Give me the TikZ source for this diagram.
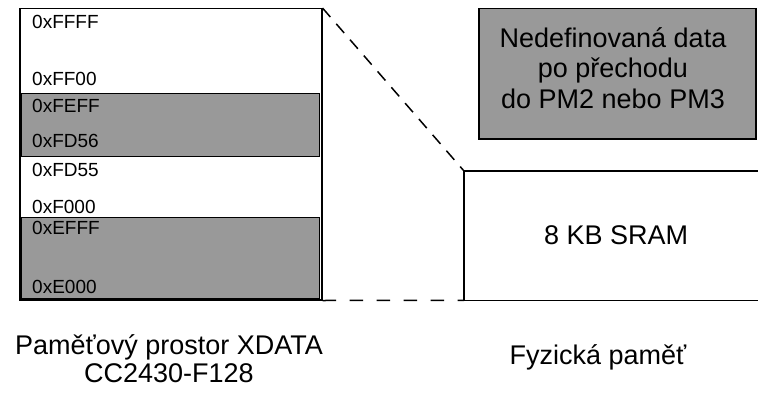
\documentclass[tikz,border=0pt]{standalone}
\usepackage{fontspec}
\setmainfont{Liberation Sans}
\definecolor{memgray}{RGB}{153,153,153}
\tikzset{
  outline/.style={draw=black, line width=1.5pt, inner sep=0pt, anchor=north west},
  grayrow/.style={draw=black, line width=1.2pt, fill=memgray, inner sep=0pt, anchor=north west, minimum width=298pt},
  addr/.style={anchor=base west, inner sep=0pt, font=\fontsize{19}{22}\selectfont},
  bigtext/.style={inner sep=0pt, align=center, font=\fontsize{27}{30.5}\selectfont},
  dashedlink/.style={draw=black, line width=1.5pt, dash pattern=on 12pt off 9pt},
}
\begin{document}
\begin{tikzpicture}[x=1pt, y=-1pt]
  \useasboundingbox (0,0) rectangle (758,396);
  \clip (0,0) rectangle (758,396);

  % XDATA address space column
  \node[outline, minimum width=302pt, minimum height=291pt] (col) at (19,8) {};
  \node[grayrow, minimum height=63pt] (rowA) at (21,93) {};
  \node[grayrow, minimum height=81pt] (rowB) at (21,217) {};

  % address labels
  \node[addr] (aFFFF) at (32,29)  {0xFFFF};
  \node[addr] (aFF00) at (32,85)  {0xFF00};
  \node[addr] (aFEFF) at (32,112) {0xFEFF};
  \node[addr] (aFD56) at (32,147) {0xFD56};
  \node[addr] (aFD55) at (32,176) {0xFD55};
  \node[addr] (aF000) at (32,213) {0xF000};
  \node[addr] (aEFFF) at (32,234) {0xEFFF};
  \node[addr] (aE000) at (32,293) {0xE000};

  % physical SRAM, open on the right
  \node[inner sep=0pt, anchor=north west, minimum width=304pt, minimum height=129pt,
        font=\fontsize{27}{30.5}\selectfont] (sram) at (464,171) {8 KB SRAM};
  \draw[line width=1.5pt] (sram.north east) -- (sram.north west)
        -- (sram.south west) -- (sram.south east);

  % note on undefined data
  \node[draw=black, line width=1.5pt, fill=memgray, anchor=north west,
        minimum width=277pt, minimum height=130pt, inner sep=0pt] (undef) at (478,8) {};
  \node[bigtext] (undeftxt) at (613,68) {Nedefinovaná data\\po přechodu\\do PM2 nebo PM3};

  % mapping of the column onto the SRAM
  \draw[dashedlink] (col.north east) -- (sram.north west);
  \draw[dashedlink, dash pattern=on 13.5pt off 13.5pt] (col.south east) -- (sram.south west);

  % captions
  \node[bigtext, font=\fontsize{27}{28}\selectfont] (capL) at (169,359) {Paměťový prostor XDATA\\CC2430-F128};
  \node[bigtext] (capR) at (598,357) {Fyzická paměť};
\end{tikzpicture}
\end{document}
